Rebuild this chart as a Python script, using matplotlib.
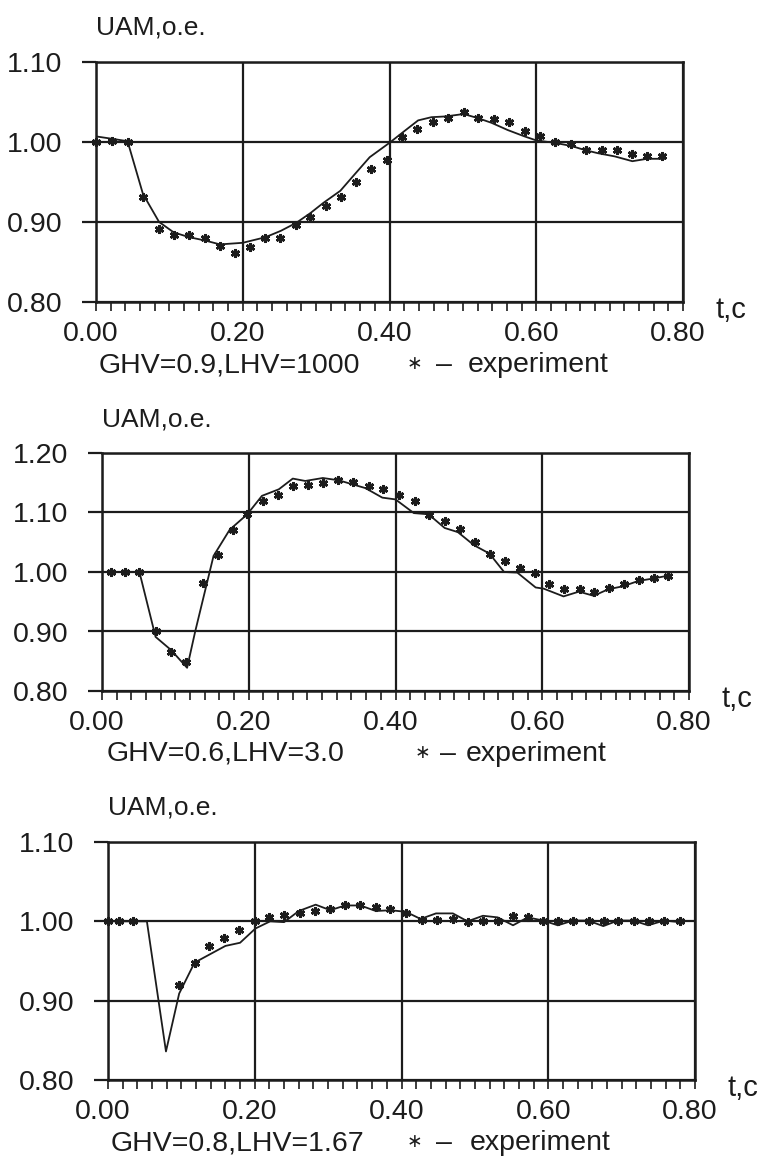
import matplotlib
matplotlib.use("Agg")
import matplotlib.pyplot as plt
from matplotlib import font_manager
from matplotlib.ticker import FixedLocator, MultipleLocator
from matplotlib.transforms import ScaledTranslation

# ---------------------------------------------------------------- data
# Panel 1: GHV=0.9, LHV=1000
t1_model = [0.000, 0.022, 0.043, 0.064, 0.086, 0.106, 0.127, 0.148, 0.169, 0.200,
            0.231, 0.252, 0.273, 0.292, 0.310, 0.333, 0.351, 0.373, 0.400, 0.418,
            0.439, 0.457, 0.477, 0.501, 0.520, 0.539, 0.561, 0.584, 0.600, 0.625,
            0.648, 0.666, 0.684, 0.707, 0.731, 0.751, 0.775]
v1_model = [1.007, 1.004, 1.001, 0.935, 0.900, 0.887, 0.881, 0.877, 0.872, 0.874,
            0.881, 0.889, 0.899, 0.911, 0.924, 0.939, 0.958, 0.981, 0.999, 1.012,
            1.027, 1.031, 1.032, 1.035, 1.030, 1.024, 1.015, 1.007, 1.002, 0.999,
            0.995, 0.990, 0.986, 0.982, 0.976, 0.979, 0.979]
t1_exp = [0.000, 0.022, 0.043, 0.064, 0.086, 0.106, 0.127, 0.148, 0.169, 0.189,
          0.210, 0.231, 0.251, 0.272, 0.292, 0.313, 0.334, 0.355, 0.375, 0.396,
          0.417, 0.438, 0.459, 0.480, 0.501, 0.521, 0.542, 0.563, 0.584, 0.605,
          0.626, 0.647, 0.668, 0.689, 0.710, 0.731, 0.751, 0.772]
v1_exp = [1.000, 1.001, 1.000, 0.931, 0.891, 0.884, 0.884, 0.880, 0.870, 0.861,
          0.869, 0.880, 0.880, 0.896, 0.906, 0.920, 0.931, 0.950, 0.966, 0.978,
          1.006, 1.016, 1.025, 1.030, 1.037, 1.030, 1.029, 1.025, 1.014, 1.007,
          1.000, 0.997, 0.990, 0.990, 0.990, 0.985, 0.982, 0.983]

# Panel 2: GHV=0.6, LHV=3.0
t2_model = [0.010, 0.051, 0.073, 0.094, 0.116, 0.127, 0.152, 0.174, 0.198, 0.218,
            0.241, 0.260, 0.277, 0.301, 0.323, 0.359, 0.382, 0.400, 0.425, 0.445,
            0.467, 0.485, 0.507, 0.528, 0.548, 0.566, 0.591, 0.602, 0.629, 0.650,
            0.670, 0.690, 0.710, 0.731, 0.751, 0.772]
v2_model = [1.000, 1.000, 0.891, 0.869, 0.839, 0.900, 1.027, 1.071, 1.097, 1.128,
            1.139, 1.157, 1.153, 1.158, 1.154, 1.141, 1.125, 1.122, 1.099, 1.097,
            1.074, 1.067, 1.045, 1.031, 1.000, 0.999, 0.974, 0.972, 0.959, 0.967,
            0.960, 0.971, 0.976, 0.985, 0.989, 0.994]
t2_exp = [0.012, 0.032, 0.051, 0.073, 0.094, 0.115, 0.137, 0.158, 0.178, 0.198,
          0.219, 0.240, 0.260, 0.281, 0.301, 0.322, 0.342, 0.364, 0.383, 0.405,
          0.426, 0.446, 0.468, 0.488, 0.508, 0.529, 0.549, 0.569, 0.590, 0.609,
          0.630, 0.651, 0.671, 0.691, 0.711, 0.732, 0.752, 0.772]
v2_exp = [1.000, 1.000, 1.000, 0.901, 0.866, 0.849, 0.981, 1.028, 1.071, 1.097,
          1.120, 1.130, 1.144, 1.147, 1.150, 1.154, 1.152, 1.144, 1.140, 1.130,
          1.120, 1.096, 1.086, 1.072, 1.050, 1.031, 1.019, 1.007, 0.999, 0.979,
          0.972, 0.972, 0.967, 0.973, 0.979, 0.987, 0.990, 0.994]

# Panel 3: GHV=0.8, LHV=1.67
t3_model = [0.000, 0.053, 0.079, 0.097, 0.118, 0.160, 0.180, 0.201, 0.221, 0.240,
            0.260, 0.283, 0.303, 0.323, 0.344, 0.365, 0.385, 0.406, 0.426, 0.447,
            0.470, 0.490, 0.511, 0.531, 0.552, 0.572, 0.593, 0.613, 0.634, 0.654,
            0.675, 0.695, 0.716, 0.736, 0.758, 0.779]
v3_model = [1.000, 1.000, 0.836, 0.909, 0.948, 0.969, 0.973, 0.991, 1.000, 0.999,
            1.013, 1.021, 1.014, 1.020, 1.020, 1.013, 1.014, 1.012, 1.003, 1.010,
            1.010, 1.000, 1.007, 1.005, 0.995, 1.005, 1.001, 0.995, 1.001, 1.001,
            0.994, 1.001, 1.001, 0.995, 1.001, 0.999]
t3_exp = [0.000, 0.015, 0.034, 0.097, 0.118, 0.137, 0.158, 0.179, 0.200, 0.220,
          0.240, 0.261, 0.282, 0.303, 0.323, 0.344, 0.365, 0.385, 0.406, 0.428,
          0.448, 0.470, 0.490, 0.511, 0.531, 0.552, 0.572, 0.593, 0.613, 0.634,
          0.655, 0.676, 0.695, 0.717, 0.737, 0.758, 0.779]
v3_exp = [1.000, 1.000, 1.000, 0.920, 0.948, 0.969, 0.979, 0.989, 1.000, 1.005,
          1.008, 1.011, 1.013, 1.015, 1.020, 1.020, 1.018, 1.016, 1.010, 1.002,
          1.002, 1.003, 0.999, 1.000, 1.000, 1.007, 1.005, 1.001, 1.001, 1.001,
          1.001, 1.000, 1.000, 1.000, 1.000, 1.000, 1.000]

x_ticks = [0.0, 0.2, 0.4, 0.6, 0.8]
x_ticklabels = ["0.00", "0.20", "0.40", "0.60", "0.80"]
y_ticks_1 = [0.80, 0.90, 1.00, 1.10]
y_ticks_2 = [0.80, 0.90, 1.00, 1.10, 1.20]
y_ticks_3 = [0.80, 0.90, 1.00, 1.10]
captions = ["GHV=0.9,LHV=1000", "GHV=0.6,LHV=3.0", "GHV=0.8,LHV=1.67"]
y_title = "UAM,o.e."
x_title = "t,c"
legend_mark = "\u2217"
legend_text = "experiment"

# ---------------------------------------------------------------- style
names = {f.name for f in font_manager.fontManager.ttflist}
FONT = "Liberation Sans" if "Liberation Sans" in names else "DejaVu Sans"
plt.rcParams["font.family"] = [FONT, "DejaVu Sans"]

INK = "#1c1c1c"
W, H, DPI = 767, 1159, 100
FS = 20.5

fig = plt.figure(figsize=(W / DPI, H / DPI), dpi=DPI, facecolor="white")

# axes boxes in pixels: left, top, right, bottom
boxes = [(96, 62, 683, 302), (102, 453, 689, 691), (108, 842, 695, 1080)]
# caption pieces, pixel offsets from the left spine: text, star, dash, word
caption_dx = [(3, 318, 348, 372), (5, 320, 346, 364), (3, 306, 336, 362)]

panels = [
    (t1_model, v1_model, t1_exp, v1_exp, y_ticks_1),
    (t2_model, v2_model, t2_exp, v2_exp, y_ticks_2),
    (t3_model, v3_model, t3_exp, v3_exp, y_ticks_3),
]

for (tm, vm, te, ve, yt), box, cap, cdx in zip(panels, boxes, captions, caption_dx):
    l, t, r, b = box
    ax = fig.add_axes([l / W, 1 - b / H, (r - l) / W, (b - t) / H])
    ax.set_xlim(0.0, 0.8)
    ax.set_ylim(yt[0], yt[-1])

    ax.xaxis.set_major_locator(FixedLocator(x_ticks))
    ax.xaxis.set_minor_locator(MultipleLocator(0.02))
    ax.yaxis.set_major_locator(FixedLocator(yt))
    ax.set_xticklabels(x_ticklabels)
    ax.set_yticklabels([f"{v:.2f}" for v in yt])

    ax.tick_params(axis="x", which="both", direction="out", length=6.8,
                   width=1.2, color=INK, labelsize=FS, labelcolor=INK, pad=7)
    ax.tick_params(axis="y", which="major", direction="out", length=10,
                   width=1.6, color=INK, labelsize=FS, labelcolor=INK, pad=14)
    for sp in ax.spines.values():
        sp.set_color(INK)
        sp.set_linewidth(1.8)

    ax.grid(True, which="major", color=INK, linewidth=1.6)
    ax.set_axisbelow(True)

    # labels sit a little left of their ticks
    shift = ScaledTranslation(-5 / DPI, 0, fig.dpi_scale_trans)
    for lab in ax.get_xticklabels():
        lab.set_transform(lab.get_transform() + shift)

    ax.plot(tm, vm, color=INK, linewidth=1.3, zorder=3)
    ax.plot(te, ve, linestyle="none", marker=(6, 2, 0), markersize=6.5,
            markeredgewidth=1.9, color=INK, zorder=4, clip_on=False)

    ax.annotate(y_title, xy=(0, 1), xycoords="axes fraction",
                xytext=(0, 27), textcoords="offset pixels",
                ha="left", va="baseline", fontsize=19, color=INK)
    ax.annotate(x_title, xy=(1, 0), xycoords="axes fraction",
                xytext=(33, -16), textcoords="offset pixels",
                ha="left", va="baseline", fontsize=21, color=INK)

    base = -70
    ax.annotate(cap, xy=(0, 0), xycoords="axes fraction",
                xytext=(cdx[0], base), textcoords="offset pixels",
                ha="left", va="baseline", fontsize=FS, color=INK)
    ax.annotate(legend_mark, xy=(0, 0), xycoords="axes fraction",
                xytext=(cdx[1], base + 3), textcoords="offset pixels",
                ha="center", va="baseline", fontsize=FS - 7, color=INK)
    ax.annotate("\u2013", xy=(0, 0), xycoords="axes fraction",
                xytext=(cdx[2], base), textcoords="offset pixels",
                ha="center", va="baseline", fontsize=FS, color=INK)
    ax.annotate(legend_text, xy=(0, 0), xycoords="axes fraction",
                xytext=(cdx[3], base), textcoords="offset pixels",
                ha="left", va="baseline", fontsize=FS, color=INK)

fig.savefig("out.png", dpi=DPI, facecolor="white")
